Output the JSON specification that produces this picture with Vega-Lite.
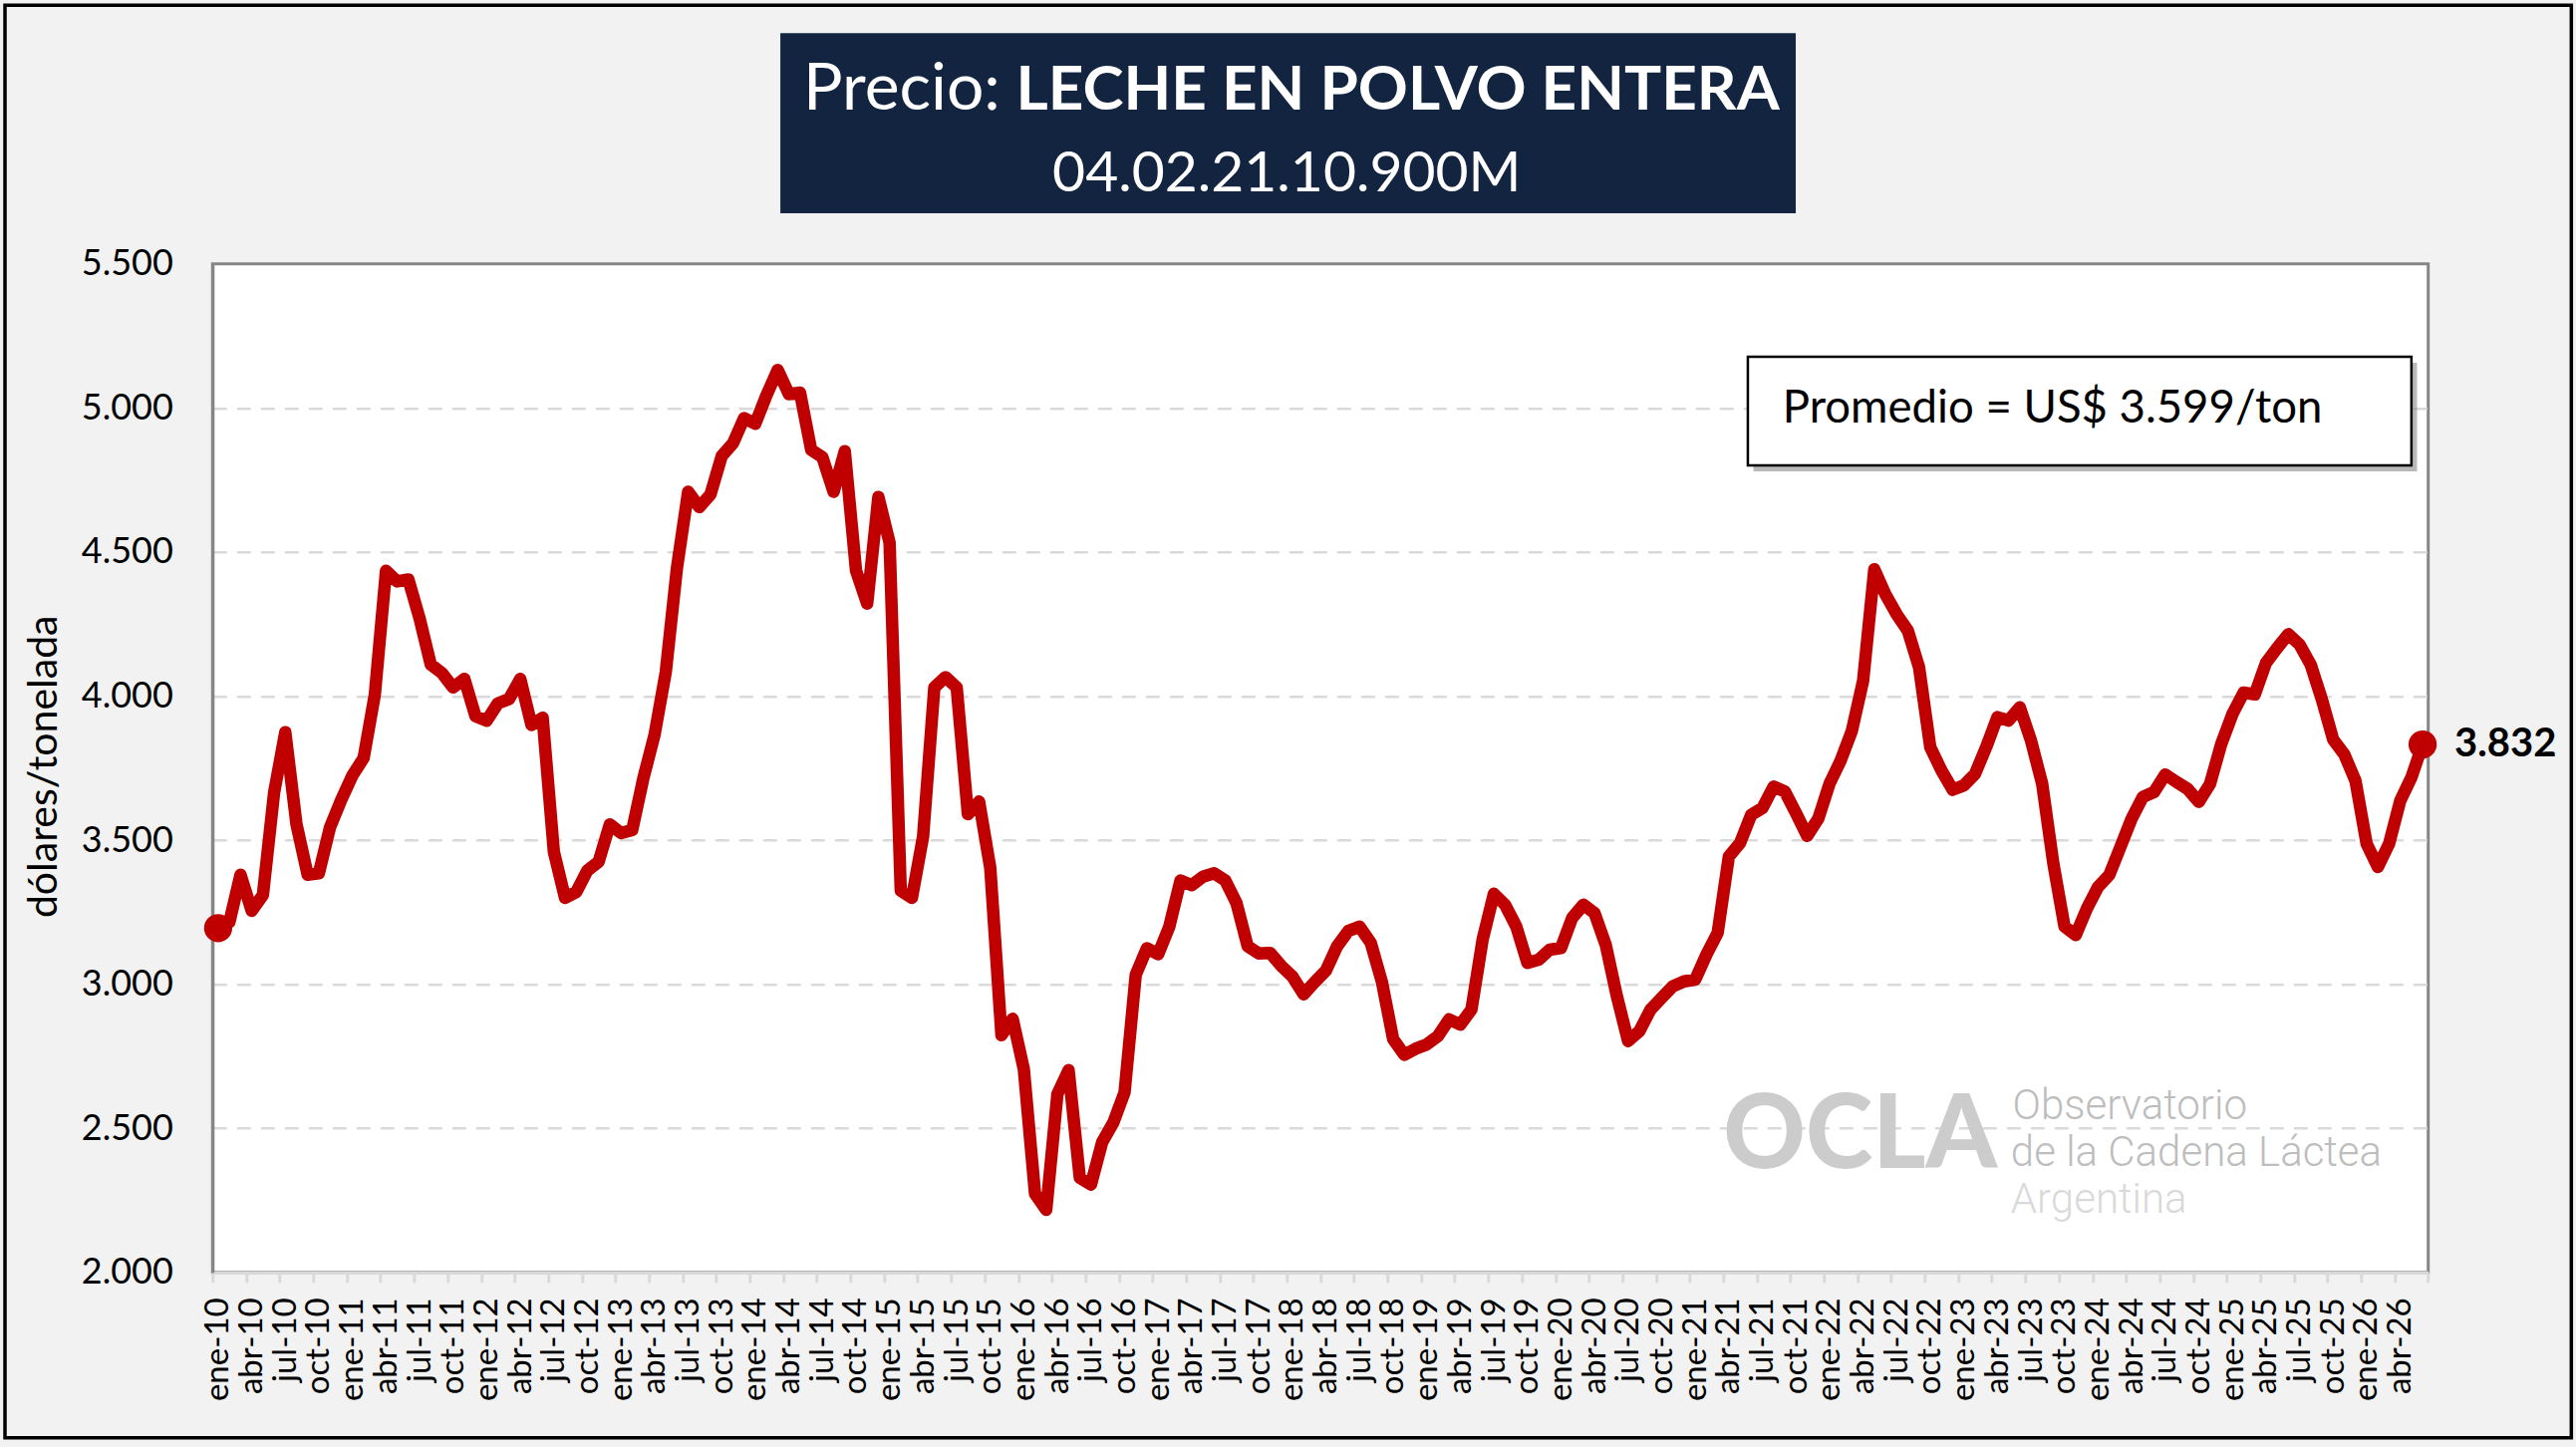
{
  "$schema": "https://vega.github.io/schema/vega-lite/v6.json",
  "width": 2223.4,
  "height": 1012,
  "autosize": {"type": "none"},
  "padding": {"left": 213.3, "top": 264.8, "right": 148.3, "bottom": 175.2},
  "background": "#f2f2f2",
  "datasets": {
    "precios": [
      {"mes": "ene-10", "t": 0, "precio": 3195}, {"mes": "feb-10", "t": 1, "precio": 3215}, {"mes": "mar-10", "t": 2, "precio": 3380},
      {"mes": "abr-10", "t": 3, "precio": 3255}, {"mes": "may-10", "t": 4, "precio": 3310}, {"mes": "jun-10", "t": 5, "precio": 3665},
      {"mes": "jul-10", "t": 6, "precio": 3875}, {"mes": "ago-10", "t": 7, "precio": 3555}, {"mes": "sep-10", "t": 8, "precio": 3380},
      {"mes": "oct-10", "t": 9, "precio": 3385}, {"mes": "nov-10", "t": 10, "precio": 3545}, {"mes": "dic-10", "t": 11, "precio": 3640},
      {"mes": "ene-11", "t": 12, "precio": 3725}, {"mes": "feb-11", "t": 13, "precio": 3785}, {"mes": "mar-11", "t": 14, "precio": 4005},
      {"mes": "abr-11", "t": 15, "precio": 4435}, {"mes": "may-11", "t": 16, "precio": 4398}, {"mes": "jun-11", "t": 17, "precio": 4405},
      {"mes": "jul-11", "t": 18, "precio": 4270}, {"mes": "ago-11", "t": 19, "precio": 4110}, {"mes": "sep-11", "t": 20, "precio": 4080},
      {"mes": "oct-11", "t": 21, "precio": 4030}, {"mes": "nov-11", "t": 22, "precio": 4060}, {"mes": "dic-11", "t": 23, "precio": 3930},
      {"mes": "ene-12", "t": 24, "precio": 3915}, {"mes": "feb-12", "t": 25, "precio": 3975}, {"mes": "mar-12", "t": 26, "precio": 3990},
      {"mes": "abr-12", "t": 27, "precio": 4060}, {"mes": "may-12", "t": 28, "precio": 3900}, {"mes": "jun-12", "t": 29, "precio": 3925},
      {"mes": "jul-12", "t": 30, "precio": 3460}, {"mes": "ago-12", "t": 31, "precio": 3300}, {"mes": "sep-12", "t": 32, "precio": 3320},
      {"mes": "oct-12", "t": 33, "precio": 3395}, {"mes": "nov-12", "t": 34, "precio": 3425}, {"mes": "dic-12", "t": 35, "precio": 3555},
      {"mes": "ene-13", "t": 36, "precio": 3525}, {"mes": "feb-13", "t": 37, "precio": 3535}, {"mes": "mar-13", "t": 38, "precio": 3715},
      {"mes": "abr-13", "t": 39, "precio": 3866}, {"mes": "may-13", "t": 40, "precio": 4083}, {"mes": "jun-13", "t": 41, "precio": 4445},
      {"mes": "jul-13", "t": 42, "precio": 4709}, {"mes": "ago-13", "t": 43, "precio": 4656}, {"mes": "sep-13", "t": 44, "precio": 4700},
      {"mes": "oct-13", "t": 45, "precio": 4833}, {"mes": "nov-13", "t": 46, "precio": 4877}, {"mes": "dic-13", "t": 47, "precio": 4965},
      {"mes": "ene-14", "t": 48, "precio": 4945}, {"mes": "feb-14", "t": 49, "precio": 5044}, {"mes": "mar-14", "t": 50, "precio": 5132},
      {"mes": "abr-14", "t": 51, "precio": 5048}, {"mes": "may-14", "t": 52, "precio": 5053}, {"mes": "jun-14", "t": 53, "precio": 4854},
      {"mes": "jul-14", "t": 54, "precio": 4829}, {"mes": "ago-14", "t": 55, "precio": 4709}, {"mes": "sep-14", "t": 56, "precio": 4850},
      {"mes": "oct-14", "t": 57, "precio": 4436}, {"mes": "nov-14", "t": 58, "precio": 4321}, {"mes": "dic-14", "t": 59, "precio": 4691},
      {"mes": "ene-15", "t": 60, "precio": 4533}, {"mes": "feb-15", "t": 61, "precio": 3325}, {"mes": "mar-15", "t": 62, "precio": 3300},
      {"mes": "abr-15", "t": 63, "precio": 3514}, {"mes": "may-15", "t": 64, "precio": 4030}, {"mes": "jun-15", "t": 65, "precio": 4066},
      {"mes": "jul-15", "t": 66, "precio": 4030}, {"mes": "ago-15", "t": 67, "precio": 3590}, {"mes": "sep-15", "t": 68, "precio": 3634},
      {"mes": "oct-15", "t": 69, "precio": 3404}, {"mes": "nov-15", "t": 70, "precio": 2823}, {"mes": "dic-15", "t": 71, "precio": 2880},
      {"mes": "ene-16", "t": 72, "precio": 2705}, {"mes": "feb-16", "t": 73, "precio": 2273}, {"mes": "mar-16", "t": 74, "precio": 2217},
      {"mes": "abr-16", "t": 75, "precio": 2619}, {"mes": "may-16", "t": 76, "precio": 2702}, {"mes": "jun-16", "t": 77, "precio": 2328},
      {"mes": "jul-16", "t": 78, "precio": 2305}, {"mes": "ago-16", "t": 79, "precio": 2452}, {"mes": "sep-16", "t": 80, "precio": 2520},
      {"mes": "oct-16", "t": 81, "precio": 2625}, {"mes": "nov-16", "t": 82, "precio": 3033}, {"mes": "dic-16", "t": 83, "precio": 3125},
      {"mes": "ene-17", "t": 84, "precio": 3104}, {"mes": "feb-17", "t": 85, "precio": 3200}, {"mes": "mar-17", "t": 86, "precio": 3360},
      {"mes": "abr-17", "t": 87, "precio": 3344}, {"mes": "may-17", "t": 88, "precio": 3373}, {"mes": "jun-17", "t": 89, "precio": 3385},
      {"mes": "jul-17", "t": 90, "precio": 3360}, {"mes": "ago-17", "t": 91, "precio": 3282}, {"mes": "sep-17", "t": 92, "precio": 3132},
      {"mes": "oct-17", "t": 93, "precio": 3107}, {"mes": "nov-17", "t": 94, "precio": 3109}, {"mes": "dic-17", "t": 95, "precio": 3064},
      {"mes": "ene-18", "t": 96, "precio": 3027}, {"mes": "feb-18", "t": 97, "precio": 2965}, {"mes": "mar-18", "t": 98, "precio": 3008},
      {"mes": "abr-18", "t": 99, "precio": 3048}, {"mes": "may-18", "t": 100, "precio": 3132}, {"mes": "jun-18", "t": 101, "precio": 3185},
      {"mes": "jul-18", "t": 102, "precio": 3200}, {"mes": "ago-18", "t": 103, "precio": 3144}, {"mes": "sep-18", "t": 104, "precio": 3008},
      {"mes": "oct-18", "t": 105, "precio": 2810}, {"mes": "nov-18", "t": 106, "precio": 2755}, {"mes": "dic-18", "t": 107, "precio": 2776},
      {"mes": "ene-19", "t": 108, "precio": 2791}, {"mes": "feb-19", "t": 109, "precio": 2820}, {"mes": "mar-19", "t": 110, "precio": 2878},
      {"mes": "abr-19", "t": 111, "precio": 2860}, {"mes": "may-19", "t": 112, "precio": 2912}, {"mes": "jun-19", "t": 113, "precio": 3155},
      {"mes": "jul-19", "t": 114, "precio": 3314}, {"mes": "ago-19", "t": 115, "precio": 3276}, {"mes": "sep-19", "t": 116, "precio": 3201},
      {"mes": "oct-19", "t": 117, "precio": 3074}, {"mes": "nov-19", "t": 118, "precio": 3085}, {"mes": "dic-19", "t": 119, "precio": 3120},
      {"mes": "ene-20", "t": 120, "precio": 3126}, {"mes": "feb-20", "t": 121, "precio": 3230}, {"mes": "mar-20", "t": 122, "precio": 3276},
      {"mes": "abr-20", "t": 123, "precio": 3247}, {"mes": "may-20", "t": 124, "precio": 3137}, {"mes": "jun-20", "t": 125, "precio": 2958},
      {"mes": "jul-20", "t": 126, "precio": 2803}, {"mes": "ago-20", "t": 127, "precio": 2837}, {"mes": "sep-20", "t": 128, "precio": 2912},
      {"mes": "oct-20", "t": 129, "precio": 2953}, {"mes": "nov-20", "t": 130, "precio": 2993}, {"mes": "dic-20", "t": 131, "precio": 3010},
      {"mes": "ene-21", "t": 132, "precio": 3016}, {"mes": "feb-21", "t": 133, "precio": 3103}, {"mes": "mar-21", "t": 134, "precio": 3178},
      {"mes": "abr-21", "t": 135, "precio": 3443}, {"mes": "may-21", "t": 136, "precio": 3490}, {"mes": "jun-21", "t": 137, "precio": 3588},
      {"mes": "jul-21", "t": 138, "precio": 3611}, {"mes": "ago-21", "t": 139, "precio": 3686}, {"mes": "sep-21", "t": 140, "precio": 3669},
      {"mes": "oct-21", "t": 141, "precio": 3594}, {"mes": "nov-21", "t": 142, "precio": 3515}, {"mes": "dic-21", "t": 143, "precio": 3575},
      {"mes": "ene-22", "t": 144, "precio": 3696}, {"mes": "feb-22", "t": 145, "precio": 3777}, {"mes": "mar-22", "t": 146, "precio": 3880},
      {"mes": "abr-22", "t": 147, "precio": 4053}, {"mes": "may-22", "t": 148, "precio": 4440}, {"mes": "jun-22", "t": 149, "precio": 4353},
      {"mes": "jul-22", "t": 150, "precio": 4284}, {"mes": "ago-22", "t": 151, "precio": 4227}, {"mes": "sep-22", "t": 152, "precio": 4100},
      {"mes": "oct-22", "t": 153, "precio": 3823}, {"mes": "nov-22", "t": 154, "precio": 3742}, {"mes": "dic-22", "t": 155, "precio": 3675},
      {"mes": "ene-23", "t": 156, "precio": 3690}, {"mes": "feb-23", "t": 157, "precio": 3730}, {"mes": "mar-23", "t": 158, "precio": 3823},
      {"mes": "abr-23", "t": 159, "precio": 3927}, {"mes": "may-23", "t": 160, "precio": 3915}, {"mes": "jun-23", "t": 161, "precio": 3961},
      {"mes": "jul-23", "t": 162, "precio": 3846}, {"mes": "ago-23", "t": 163, "precio": 3696}, {"mes": "sep-23", "t": 164, "precio": 3419},
      {"mes": "oct-23", "t": 165, "precio": 3200}, {"mes": "nov-23", "t": 166, "precio": 3171}, {"mes": "dic-23", "t": 167, "precio": 3263},
      {"mes": "ene-24", "t": 168, "precio": 3338}, {"mes": "feb-24", "t": 169, "precio": 3379}, {"mes": "mar-24", "t": 170, "precio": 3477},
      {"mes": "abr-24", "t": 171, "precio": 3575}, {"mes": "may-24", "t": 172, "precio": 3650}, {"mes": "jun-24", "t": 173, "precio": 3667},
      {"mes": "jul-24", "t": 174, "precio": 3728}, {"mes": "ago-24", "t": 175, "precio": 3702}, {"mes": "sep-24", "t": 176, "precio": 3678},
      {"mes": "oct-24", "t": 177, "precio": 3633}, {"mes": "nov-24", "t": 178, "precio": 3695}, {"mes": "dic-24", "t": 179, "precio": 3833},
      {"mes": "ene-25", "t": 180, "precio": 3937}, {"mes": "feb-25", "t": 181, "precio": 4012}, {"mes": "mar-25", "t": 182, "precio": 4006},
      {"mes": "abr-25", "t": 183, "precio": 4115}, {"mes": "may-25", "t": 184, "precio": 4167}, {"mes": "jun-25", "t": 185, "precio": 4215},
      {"mes": "jul-25", "t": 186, "precio": 4179}, {"mes": "ago-25", "t": 187, "precio": 4109}, {"mes": "sep-25", "t": 188, "precio": 3988},
      {"mes": "oct-25", "t": 189, "precio": 3850}, {"mes": "nov-25", "t": 190, "precio": 3798}, {"mes": "dic-25", "t": 191, "precio": 3706},
      {"mes": "ene-26", "t": 192, "precio": 3487}, {"mes": "feb-26", "t": 193, "precio": 3407}, {"mes": "mar-26", "t": 194, "precio": 3487},
      {"mes": "abr-26", "t": 195, "precio": 3637}, {"mes": "may-26", "t": 196, "precio": 3718}, {"mes": "jun-26", "t": 197, "precio": 3832}
    ]
  },
  "layer": [
    {
      "data": {"name": "precios"},
      "mark": {"type": "line", "color": "#c00000", "strokeWidth": 12.5, "strokeJoin": "round", "strokeCap": "round"},
      "encoding": {
        "x": {
          "field": "t",
          "type": "quantitative",
          "scale": {"domain": [-0.5, 197.5], "nice": false, "zero": false},
          "axis": {
            "title": null,
            "grid": false,
            "tickCount": 300,
            "values": [-0.5, 2.5, 5.5, 8.5, 11.5, 14.5, 17.5, 20.5, 23.5, 26.5, 29.5, 32.5, 35.5, 38.5, 41.5, 44.5, 47.5, 50.5, 53.5, 56.5, 59.5, 62.5, 65.5, 68.5, 71.5, 74.5, 77.5, 80.5, 83.5, 86.5, 89.5, 92.5, 95.5, 98.5, 101.5, 104.5, 107.5, 110.5, 113.5, 116.5, 119.5, 122.5, 125.5, 128.5, 131.5, 134.5, 137.5, 140.5, 143.5, 146.5, 149.5, 152.5, 155.5, 158.5, 161.5, 164.5, 167.5, 170.5, 173.5, 176.5, 179.5, 182.5, 185.5, 188.5, 191.5, 194.5, 197.5],
            "labelExpr": "datum.value > 197 ? '' : ['ene', 'abr', 'jul', 'oct'][round((datum.value + 0.5) / 3) % 4] + '-' + floor((datum.value + 0.5) / 12 + 10)",
            "labelAngle": -90,
            "labelOffset": 5.6,
            "labelFlush": false,
            "labelOverlap": false,
            "labelSeparation": 0,
            "labelBound": false,
            "labelFont": "Lato",
            "labelFontSize": 33,
            "labelColor": "#000000",
            "labelPadding": 15,
            "tickSize": 10,
            "tickWidth": 3,
            "tickColor": "#d9d9d9",
            "domainColor": "#d9d9d9",
            "domainWidth": 3
          }
        },
        "y": {
          "field": "precio",
          "type": "quantitative",
          "scale": {"domain": [2000, 5500], "nice": false, "zero": false},
          "axis": {
            "values": [2000, 2500, 3000, 3500, 4000, 4500, 5000, 5500],
            "tickCount": 20,
            "labelExpr": "replace(format(datum.value, ','), ',', '.')",
            "labelFont": "Lato",
            "labelFontSize": 36,
            "labelColor": "#000000",
            "labelPadding": 40,
            "labelOverlap": false,
            "ticks": false,
            "domainColor": "#868686",
            "domainWidth": 3,
            "grid": true,
            "gridColor": "#d9d9d9",
            "gridDash": [14, 10],
            "gridWidth": 2.5,
            "gridOpacity": {"condition": {"test": "datum.value <= 2000 || datum.value >= 5500", "value": 0}, "value": 1},
            "title": "dólares/tonelada",
            "titleFont": "Lato",
            "titleFontSize": 41,
            "titleFontWeight": "normal",
            "titleColor": "#000000",
            "titleAngle": -90,
            "titleX": -169,
            "titleY": 504,
            "titleAlign": "center",
            "titleBaseline": "middle"
          }
        }
      }
    },
    {
      "data": {"values": [{}]},
      "mark": {"type": "rect", "fillOpacity": 0, "stroke": "#000000", "strokeWidth": 3.5},
      "encoding": {
        "x": {"datum": -19.05, "type": "quantitative"},
        "x2": {"datum": 210.29},
        "y": {"datum": 6398, "type": "quantitative"},
        "y2": {"datum": 1426}
      }
    },
    {
      "data": {"values": [{}]},
      "mark": {"type": "rect", "fill": "#132440"},
      "encoding": {
        "x": {"datum": 50.24, "type": "quantitative"},
        "x2": {"datum": 140.98},
        "y": {"datum": 6301, "type": "quantitative"},
        "y2": {"datum": 5676}
      }
    },
    {
      "data": {"values": [{}]},
      "mark": {"type": "text", "text": "Precio:", "font": "Lato", "fontSize": 66, "color": "white", "align": "right", "baseline": "alphabetic"},
      "encoding": {
        "x": {"datum": 69.9, "type": "quantitative"},
        "y": {"datum": 6035, "type": "quantitative"}
      }
    },
    {
      "data": {"values": [{}]},
      "mark": {"type": "text", "text": "LECHE EN POLVO ENTERA", "font": "Lato", "fontSize": 62, "fontWeight": "bold", "color": "white", "align": "left", "baseline": "alphabetic"},
      "encoding": {
        "x": {"datum": 71.3, "type": "quantitative"},
        "y": {"datum": 6035, "type": "quantitative"}
      }
    },
    {
      "data": {"values": [{}]},
      "mark": {"type": "text", "text": "04.02.21.10.900M", "font": "Lato", "fontSize": 57, "color": "white", "align": "center", "baseline": "alphabetic"},
      "encoding": {
        "x": {"datum": 95.5, "type": "quantitative"},
        "y": {"datum": 5753, "type": "quantitative"}
      }
    },
    {
      "data": {"values": [{}]},
      "mark": {"type": "text", "text": "OCLA", "font": "Lato", "fontSize": 102, "fontWeight": 900, "color": "#cccccc", "align": "left", "baseline": "alphabetic"},
      "encoding": {
        "x": {"datum": 134.5, "type": "quantitative"},
        "y": {"datum": 2363, "type": "quantitative"}
      }
    },
    {
      "data": {"values": [{}]},
      "mark": {"type": "text", "text": "Observatorio", "font": "Roboto", "fontSize": 42, "fontWeight": 300, "color": "#bdbdbd", "align": "left", "baseline": "alphabetic"},
      "encoding": {
        "x": {"datum": 160.35, "type": "quantitative"},
        "y": {"datum": 2532, "type": "quantitative"}
      }
    },
    {
      "data": {"values": [{}]},
      "mark": {"type": "text", "text": "de la Cadena Láctea", "font": "Roboto", "fontSize": 42, "fontWeight": 300, "color": "#bdbdbd", "align": "left", "baseline": "alphabetic"},
      "encoding": {
        "x": {"datum": 160.2, "type": "quantitative"},
        "y": {"datum": 2370, "type": "quantitative"}
      }
    },
    {
      "data": {"values": [{}]},
      "mark": {"type": "text", "text": "Argentina", "font": "Roboto", "fontSize": 42, "fontWeight": 300, "color": "#d9d9d9", "align": "left", "baseline": "alphabetic"},
      "encoding": {
        "x": {"datum": 160.2, "type": "quantitative"},
        "y": {"datum": 2207, "type": "quantitative"}
      }
    },
    {
      "data": {"name": "precios"},
      "transform": [{"filter": "datum.t == 0 || datum.t == 197"}],
      "mark": {"type": "point", "filled": true, "opacity": 1, "size": 800, "color": "#c00000"},
      "encoding": {
        "x": {"field": "t", "type": "quantitative"},
        "y": {"field": "precio", "type": "quantitative"}
      }
    },
    {
      "data": {"name": "precios"},
      "transform": [
        {"filter": "datum.t == 197"},
        {"calculate": "replace(format(datum.precio, ','), ',', '.')", "as": "etiqueta"}
      ],
      "mark": {"type": "text", "font": "Lato", "fontSize": 40, "fontWeight": "bold", "color": "#000000", "align": "left", "baseline": "middle", "dx": 32},
      "encoding": {
        "x": {"field": "t", "type": "quantitative"},
        "y": {"field": "precio", "type": "quantitative"},
        "text": {"field": "etiqueta", "type": "nominal"}
      }
    },
    {
      "data": {"values": [{}]},
      "mark": {"type": "rect", "fill": "#7f7f7f", "opacity": 0.55},
      "encoding": {
        "x": {"datum": 137.2, "type": "quantitative"},
        "x2": {"datum": 196.5},
        "y": {"datum": 5157, "type": "quantitative"},
        "y2": {"datum": 4780}
      }
    },
    {
      "data": {"values": [{}]},
      "mark": {"type": "rect", "fill": "#ffffff", "stroke": "#000000", "strokeWidth": 2.5},
      "encoding": {
        "x": {"datum": 136.7, "type": "quantitative"},
        "x2": {"datum": 196.0},
        "y": {"datum": 5178, "type": "quantitative"},
        "y2": {"datum": 4801}
      }
    },
    {
      "data": {"values": [{}]},
      "mark": {"type": "text", "text": "Promedio = US$ 3.599/ton", "font": "Lato", "fontSize": 45.5, "color": "#000000", "align": "left", "baseline": "alphabetic"},
      "encoding": {
        "x": {"datum": 139.8, "type": "quantitative"},
        "y": {"datum": 4950, "type": "quantitative"}
      }
    }
  ],
  "config": {
    "view": {"fill": "#ffffff", "stroke": "#868686", "strokeWidth": 3},
    "font": "Lato",
    "axisX": {"labelOverlap": false, "labelFlush": false, "labelBound": false, "labelSeparation": 0},
    "axisY": {"labelOverlap": false}
  }
}
